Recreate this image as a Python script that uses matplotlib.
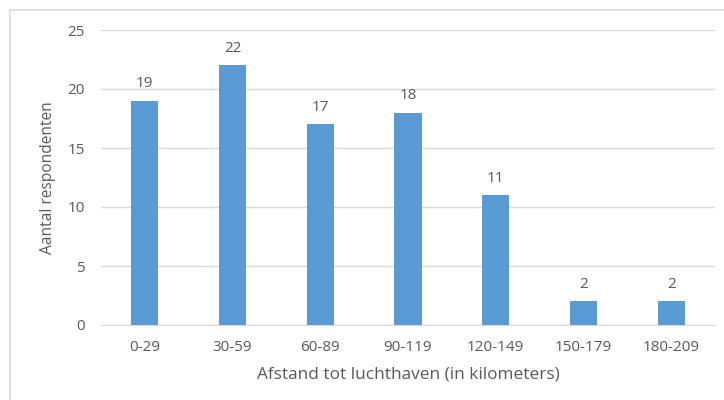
import matplotlib.pyplot as plt
from matplotlib.patches import Rectangle

# distance buckets and number of respondents per bucket
afstanden = ['0-29', '30-59', '60-89', '90-119', '120-149', '150-179', '180-209']
aantallen = [19, 22, 17, 18, 11, 2, 2]

BAR_COL = '#5b9bd5'
TXT_COL = '#595959'
GRID_COL = '#d9d9d9'

plt.rcParams['font.family'] = ['Open Sans', 'DejaVu Sans']

fig = plt.figure(figsize=(7.24, 4.0), dpi=100)
ax = fig.add_axes([101 / 724, 1 - 325 / 400, 614 / 724, 295 / 400])

x = range(len(afstanden))
bars = ax.bar(x, aantallen, width=0.31, color=BAR_COL, zorder=3)
for b, v in zip(bars, aantallen):
    ax.text(b.get_x() + b.get_width() / 2, v + 0.8, str(v),
            ha='center', va='bottom', fontsize=11, color=TXT_COL)

ax.set_xlim(-0.5, len(afstanden) - 0.5)
ax.set_ylim(0, 25)
ax.set_yticks(range(0, 26, 5))
ax.set_xticks(list(x))
ax.set_xticklabels(afstanden)
ax.tick_params(length=0, labelsize=11, labelcolor=TXT_COL)
ax.tick_params(axis='x', pad=11)
ax.tick_params(axis='y', pad=11.5)
ax.yaxis.grid(True, color=GRID_COL, lw=1, zorder=0)
for s in ('top', 'right', 'left'):
    ax.spines[s].set_visible(False)
ax.spines['bottom'].set_color(GRID_COL)

ax.set_xlabel('Afstand tot luchthaven (in kilometers)', fontsize=12.4,
              color=TXT_COL, labelpad=8)
ax.set_ylabel('Aantal respondenten', fontsize=11.2, color=TXT_COL)
ax.yaxis.set_label_coords(-0.073, 0.5)

# chart border
fig.patches.append(Rectangle((10 / 724, -0.1), 1.0, 390 / 400 + 0.1,
                             transform=fig.transFigure, fill=False,
                             edgecolor=GRID_COL, lw=1.2))

fig.savefig('out.png', dpi=100)
